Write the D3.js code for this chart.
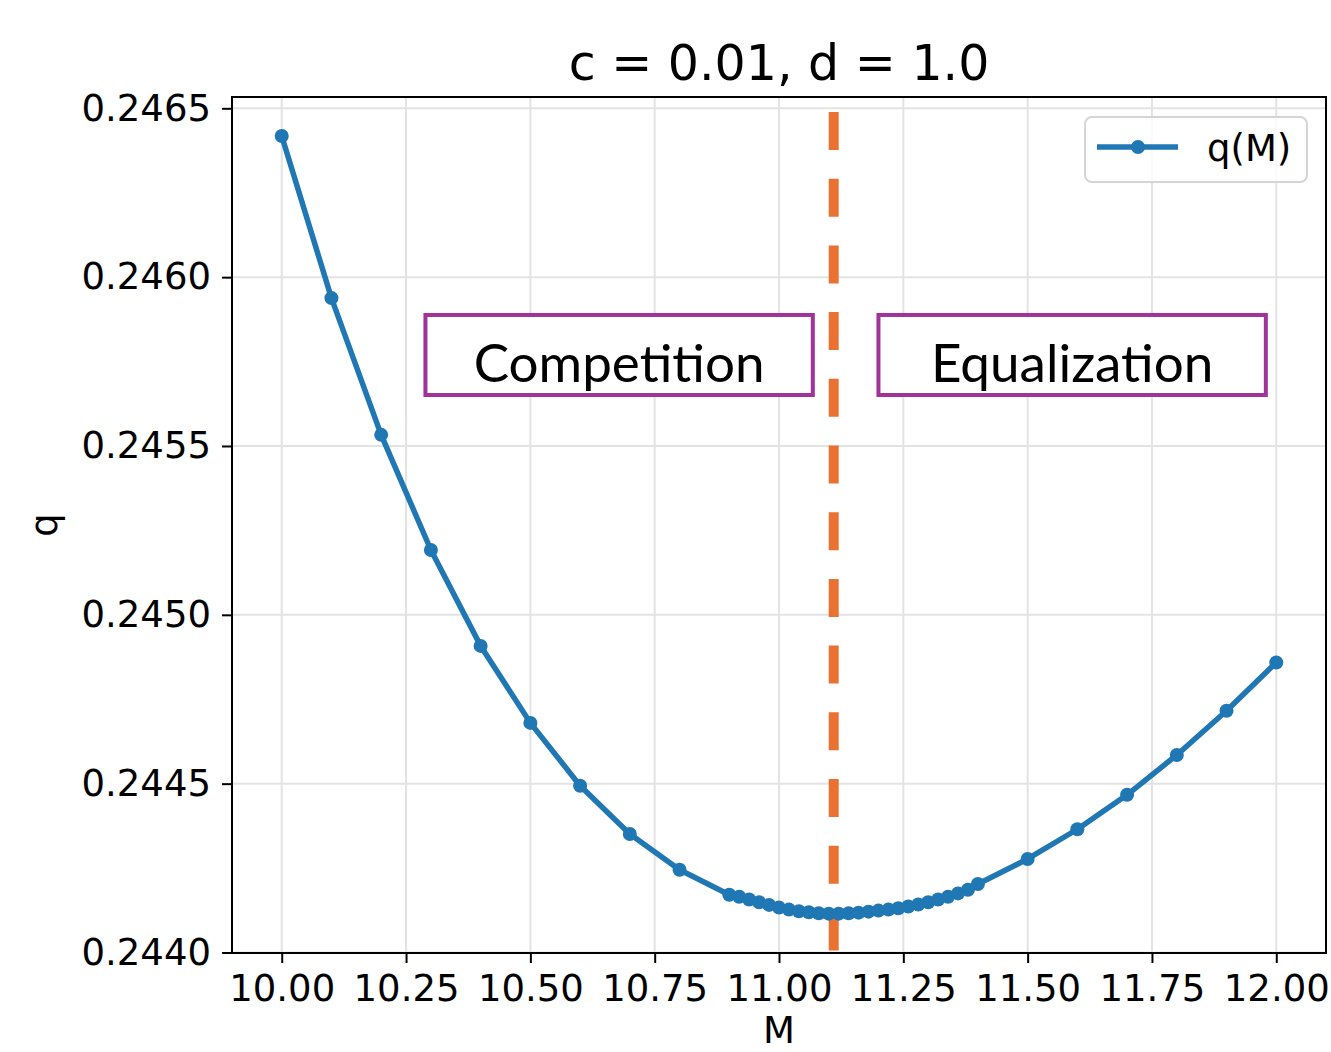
<!DOCTYPE html>
<html>
<head>
<meta charset="utf-8">
<script src="https://cdn.jsdelivr.net/npm/d3@7"></script>
<style>
  body { margin: 0; background: white; }
  svg { display: block; }
</style>
</head>
<body>
<svg id="chart"></svg>
<script>
var width = 1331;
var height = 1052;

// data
var mValues = [10.0, 10.1, 10.2, 10.3, 10.4, 10.5, 10.6, 10.7, 10.8,
	10.90, 10.92, 10.94, 10.96, 10.98, 11.00, 11.02, 11.04, 11.06, 11.08,
	11.10, 11.12, 11.14, 11.16, 11.18, 11.20, 11.22, 11.24, 11.26, 11.28,
	11.30, 11.32, 11.34, 11.36, 11.38, 11.40,
	11.5, 11.6, 11.7, 11.8, 11.9, 12.0];
var qValues = [0.246418, 0.245938, 0.245533, 0.245192, 0.244908, 0.244680, 0.244494, 0.244351, 0.244245,
	0.244171, 0.244165, 0.244157, 0.244149, 0.244141, 0.244133, 0.244127, 0.244122, 0.244119, 0.244116,
	0.244115, 0.244115, 0.244116, 0.244118, 0.244121, 0.244124, 0.244127, 0.244131, 0.244136, 0.244142,
	0.244149, 0.244157, 0.244165, 0.244175, 0.244186, 0.244203,
	0.244277, 0.244365, 0.244467, 0.244585, 0.244716, 0.244859];
var xTicks = [10.00, 10.25, 10.50, 10.75, 11.00, 11.25, 11.50, 11.75, 12.00];
var yTicks = [0.2440, 0.2445, 0.2450, 0.2455, 0.2460, 0.2465];
var splitM = 11.11; // orange dashed line
var regionLabels = ["Competition", "Equalization"];
var regionStarts = [10.289, 11.20];   // left edge of each box in M
var regionEnds = [11.068, 11.979];
var regionTop = 0.245888;
var regionBottom = 0.245651;
var titleText = "c = 0.01, d = 1.0";
var legendText = "q(M)";

// plot area (window.top is read-only, so other names)
var padL = 232, padR = 1326, padT = 97, padB = 953;

var x = d3.scaleLinear().domain([9.9, 12.1]).range([padL, padR]);
var y = d3.scaleLinear().domain([0.2439985, 0.2465335]).range([padB, padT]);

var svg = d3.select("#chart")
	.attr("width", width)
	.attr("height", height)
	.style("font-family", "'DejaVu Sans', sans-serif");

svg.append("rect").attr("width", width).attr("height", height).attr("fill", "white");

// grid
svg.append("g").selectAll("line").data(xTicks).enter().append("line")
	.attr("x1", d => x(d)).attr("x2", d => x(d))
	.attr("y1", padT).attr("y2", padB)
	.attr("stroke", "#e3e3e3").attr("stroke-width", 2);
svg.append("g").selectAll("line").data(yTicks).enter().append("line")
	.attr("x1", padL).attr("x2", padR)
	.attr("y1", d => y(d)).attr("y2", d => y(d))
	.attr("stroke", "#e3e3e3").attr("stroke-width", 2);

// axes
var xAxis = d3.axisBottom(x).tickValues(xTicks).tickFormat(d3.format(".2f")).tickSize(10).tickPadding(11);
var yAxis = d3.axisLeft(y).tickValues(yTicks).tickFormat(d3.format(".4f")).tickSize(10).tickPadding(11);

var gx = svg.append("g").attr("transform", "translate(0," + padB + ")").call(xAxis);
var gy = svg.append("g").attr("transform", "translate(" + padL + ",0)").call(yAxis);
[gx, gy].forEach(function (g) {
	g.select(".domain").remove();
	g.selectAll(".tick line").attr("stroke", "black").attr("stroke-width", 2);
	g.selectAll(".tick text").attr("fill", "black").style("font-size", "37px").style("font-family", "'DejaVu Sans'");
});
gx.selectAll(".tick text").attr("dy", "0.74em");

// boxes with the region names
regionLabels.forEach(function (lab, i) {
	svg.append("rect")
		.attr("x", x(regionStarts[i])).attr("y", y(regionTop))
		.attr("width", x(regionEnds[i]) - x(regionStarts[i]))
		.attr("height", y(regionBottom) - y(regionTop))
		.attr("fill", "white").attr("stroke", "#a0339a").attr("stroke-width", 4);
	svg.append("text")
		.attr("x", (x(regionStarts[i]) + x(regionEnds[i])) / 2)
		.attr("y", y(regionBottom) - 13)
		.attr("text-anchor", "middle")
		.style("font-family", "Lato, 'Open Sans', sans-serif")
		.style("font-size", "53px")
		.attr("fill", "black")
		.text(lab);
});

// dashed split line
svg.append("line")
	.attr("x1", x(splitM)).attr("x2", x(splitM))
	.attr("y1", padT + 15).attr("y2", padB)
	.attr("stroke", "#e97132").attr("stroke-width", 10)
	.attr("stroke-dasharray", "38 28.7");

// the series
var pts = mValues.map((m, i) => [m, qValues[i]]);
var line = d3.line().x(d => x(d[0])).y(d => y(d[1]));
svg.append("path").datum(pts)
	.attr("d", line)
	.attr("fill", "none").attr("stroke", "#1f77b4").attr("stroke-width", 5.5)
	.attr("stroke-linejoin", "round");
svg.append("g").selectAll("circle").data(pts).enter().append("circle")
	.attr("cx", d => x(d[0])).attr("cy", d => y(d[1])).attr("r", 7)
	.attr("fill", "#1f77b4");

// frame
svg.append("rect").attr("x", padL).attr("y", padT)
	.attr("width", padR - padL).attr("height", padB - padT)
	.attr("fill", "none").attr("stroke", "black").attr("stroke-width", 2);

// legend
var lg = svg.append("g").attr("transform", "translate(1085,117)");
lg.append("rect").attr("width", 222).attr("height", 65).attr("rx", 7)
	.attr("fill", "white").attr("fill-opacity", 0.8).attr("stroke", "#d5d5d5").attr("stroke-width", 2);
lg.append("line").attr("x1", 12).attr("x2", 93).attr("y1", 30).attr("y2", 30)
	.attr("stroke", "#1f77b4").attr("stroke-width", 5.5);
lg.append("circle").attr("cx", 53).attr("cy", 30).attr("r", 7).attr("fill", "#1f77b4");
lg.append("text").attr("x", 122).attr("y", 44).style("font-size", "37px").attr("fill", "black").text(legendText);

// title and labels
svg.append("text").attr("x", (padL + padR) / 2).attr("y", 80)
	.attr("text-anchor", "middle").style("font-size", "49px").attr("fill", "black").text(titleText);
svg.append("text").attr("x", (padL + padR) / 2).attr("y", 1043)
	.attr("text-anchor", "middle").style("font-size", "37px").attr("fill", "black").text("M");
svg.append("text").attr("transform", "translate(57," + (padT + padB) / 2 + ") rotate(-90)")
	.attr("text-anchor", "middle").style("font-size", "37px").attr("fill", "black").text("q");
</script>
</body>
</html>
